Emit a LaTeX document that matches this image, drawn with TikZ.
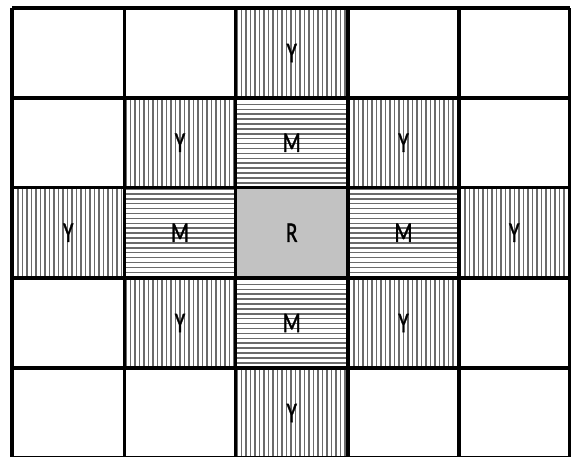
\documentclass[tikz,border=0pt]{standalone}
\usepackage{fontspec}
\setmainfont{Carlito}
\newfontfamily\labfont[FakeBold=1.5]{Carlito}
\begin{document}
\begin{tikzpicture}[x=1pt,y=-1pt,
  gridline/.style={line width=3.2pt,black},
  hatchline/.style={line width=1.5pt,black!58},
  lab/.style={inner sep=0pt,font=\labfont\fontsize{21}{21}\selectfont,text=black}]
\useasboundingbox (0,0) rectangle (572,456);
\clip (0,0) rectangle (572,456);
\fill[white] (0,0) rectangle (572,456);
\def\xs{{12,124.5,235.5,348,459,569.5}}
\def\ys{{8,98,187.5,278,368,458}}
\foreach \r in {0,...,4}{
  \foreach \c in {0,...,4}{
    \pgfmathsetmacro{\xa}{\xs[\c]}
    \pgfmathsetmacro{\xb}{\xs[\c+1]}
    \pgfmathsetmacro{\ya}{\ys[\r]}
    \pgfmathsetmacro{\yb}{\ys[\r+1]}
    \pgfmathtruncatemacro{\d}{abs(\r-2)+abs(\c-2)}
    \ifnum\d=0
      \fill[black!24] (\xa,\ya) rectangle (\xb,\yb);
      \node[lab] (cell-\r-\c) at ({(\xa+\xb)/2},{(\ya+\yb)/2}) {\scalebox{1}[1.35]{R}};
    \fi
    \ifnum\d=1
      \begin{scope}
        \clip (\xa,\ya) rectangle (\xb,\yb);
        \foreach \k in {0,...,20}{
          \draw[hatchline] (\xa,\ya+\k*4.9+1.5) -- (\xb,\ya+\k*4.9+1.5);
        }
      \end{scope}
      \node[lab] (cell-\r-\c) at ({(\xa+\xb)/2},{(\ya+\yb)/2}) {\scalebox{1}[1.35]{M}};
    \fi
    \ifnum\d=2
      \begin{scope}
        \clip (\xa,\ya) rectangle (\xb,\yb);
        \foreach \k in {0,...,26}{
          \draw[hatchline] (\xa+\k*4.5+1.5,\ya) -- (\xa+\k*4.5+1.5,\yb);
        }
      \end{scope}
      \node[lab] (cell-\r-\c) at ({(\xa+\xb)/2},{(\ya+\yb)/2}) {\scalebox{1}[1.35]{Y}};
    \fi
  }
}
\foreach \i in {0,...,5}{
  \pgfmathsetmacro{\xx}{\xs[\i]}
  \pgfmathsetmacro{\yy}{\ys[\i]}
  \draw[gridline] (\xx,8) -- (\xx,458);
  \draw[gridline] (12,\yy) -- (569.5,\yy);
}
\end{tikzpicture}
\end{document}
